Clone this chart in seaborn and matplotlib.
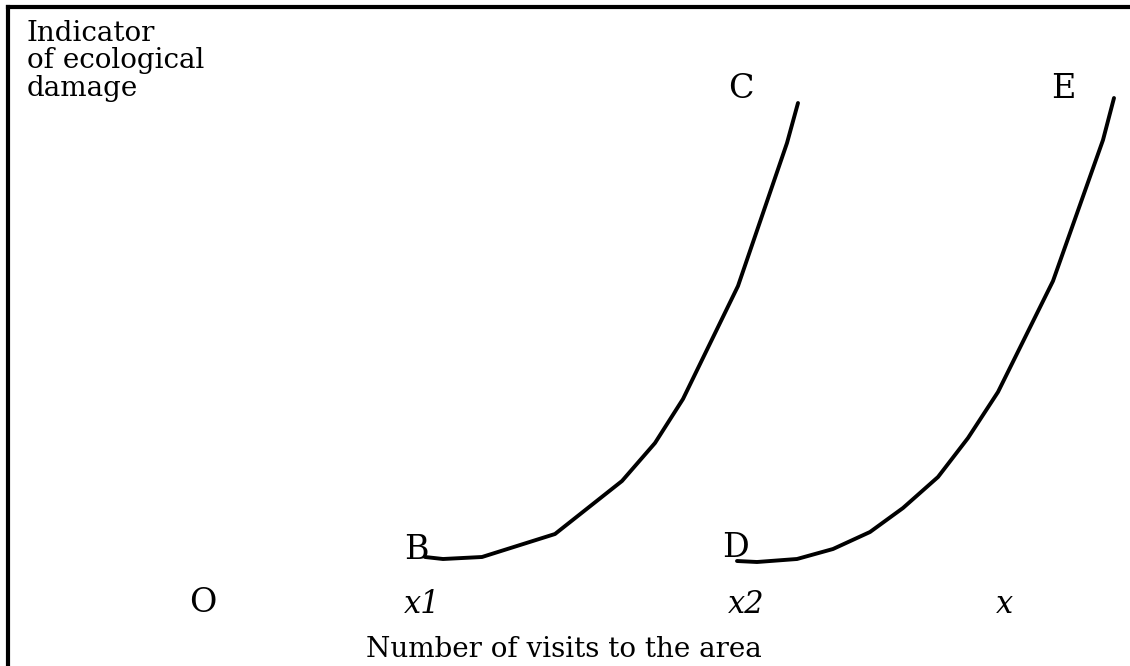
import pandas as pd
import numpy as np
import matplotlib.pyplot as plt
import seaborn as sns

# ==========================
# Data
# ==========================
# curve B -> C
visits_bc = [41.7, 43.5, 47.4, 54.7, 61.4, 64.7, 67.5, 73.0, 77.9, 79.0]
damage_bc = [10.9, 10.7, 10.9, 13.2, 18.5, 22.3, 26.7, 38.0, 52.3, 56.3]

# curve D -> E
visits_de = [72.9, 74.9, 78.9, 82.5, 86.2, 89.5, 93.0, 96.0, 99.0, 104.5, 109.5, 110.6]
damage_de = [10.5, 10.4, 10.7, 11.7, 13.4, 15.8, 18.9, 22.8, 27.4, 38.5, 52.6, 56.8]

# labels on the horizontal axis
tick_names = ["O", "x1", "x2", "x"]
tick_pos = [19.5, 41.4, 73.8, 99.7]

# point labels
point_names = ["B", "C", "D", "E"]
point_x = [40.8, 73.3, 72.7, 105.5]
point_y = [11.6, 57.7, 11.8, 57.7]

df = pd.concat([
    pd.DataFrame({"visits": visits_bc, "damage": damage_bc, "curve": "BC"}),
    pd.DataFrame({"visits": visits_de, "damage": damage_de, "curve": "DE"}),
])

# ==========================
# Plot
# ==========================
sns.set_theme(style="white")
plt.rcParams['font.family'] = ['DejaVu Serif']

fig = plt.figure(figsize=(11.3, 6.66), dpi=100)
ax = fig.add_axes([8 / 1130, 0, 1122 / 1130, 659 / 666])

sns.lineplot(data=df, x="visits", y="damage", hue="curve",
             palette=["black", "black"], estimator=None, sort=False,
             linewidth=2.8, legend=False, ax=ax)
for line in ax.get_lines():
    line.set_solid_capstyle("round")
    line.set_solid_joinstyle("round")

ax.set_xlim(0, 112.2)
ax.set_ylim(0, 65.9)
ax.set_xticks([])
ax.set_yticks([])
ax.set_xlabel("")
ax.set_ylabel("")

for side in ["right", "bottom"]:
    ax.spines[side].set_visible(False)
for side in ["left", "top"]:
    ax.spines[side].set_color("black")
    ax.spines[side].set_linewidth(3)

# axis titles
ax.text(1.9, 64.6, "Indicator\nof ecological\ndamage", ha="left", va="top",
        fontsize=20, linespacing=1.02, color="black")
ax.text(55.6, 0.9, "Number of visits to the area", ha="center",
        va="baseline", fontsize=20, color="black")

# horizontal axis marks
for name, xp in zip(tick_names, tick_pos):
    if name == "O":
        ax.text(xp, 5.4, name, ha="center", va="baseline", fontsize=24,
                color="black")
    else:
        ax.text(xp, 5.3, name, ha="center", va="baseline", fontsize=22,
                style="italic", color="black")

# point labels
for name, xp, yp in zip(point_names, point_x, point_y):
    ax.text(xp, yp, name, ha="center", va="center", fontsize=24,
            color="black")

fig.savefig("out.png", dpi=100)
